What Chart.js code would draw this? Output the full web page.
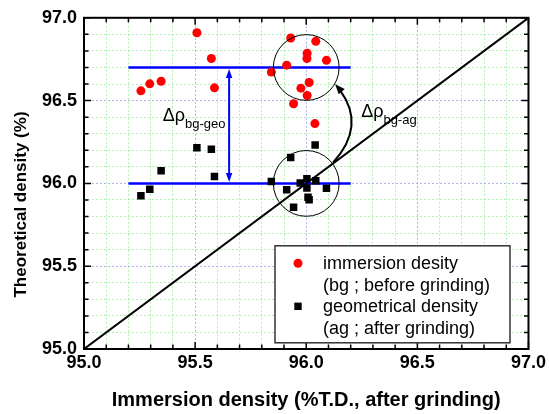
<!DOCTYPE html>
<html><head><meta charset="utf-8">
<script src="https://cdn.jsdelivr.net/npm/chart.js@4.4.1/dist/chart.umd.min.js"></script>
<style>html,body{margin:0;padding:0;background:#fff}#wrap{width:549px;height:414px;position:relative}</style>
</head><body><div id="wrap"><canvas id="c"></canvas></div>
<script>
// ---- data ----
const immersionX = [95.256,95.296,95.347,95.508,95.573,95.587,95.843,95.912,95.930,96.004,96.003,96.043,96.013,95.976,96.004,95.943,96.039,96.091];
const immersionY = [96.559,96.601,96.617,96.910,96.754,96.577,96.672,96.714,96.878,96.786,96.754,96.858,96.609,96.575,96.531,96.481,96.361,96.743];
const geometricalX = [95.256,95.296,95.347,95.508,95.573,95.587,95.843,95.930,96.040,95.912,96.003,95.973,96.043,96.003,96.091,96.008,96.013,95.943];
const geometricalY = [95.926,95.964,96.076,96.216,96.206,96.042,96.012,96.157,96.232,95.962,96.028,96.002,96.016,95.972,95.970,95.916,95.902,95.856];
const levelX = [95.2, 96.2];
const levelBg = 96.7;
const levelGeo = 96.0;
const diagX = [95.0, 97.0];
const axisMin = 95.0, axisMax = 97.0, tickStep = 0.1;
const tickLabels = ['95.0','95.5','96.0','96.5','97.0'];
const legendLines = [['immersion desity','(bg ; before grinding)'],['geometrical density','(ag ; after grinding)']];

const FONT = "'Liberation Sans', Arial, Helvetica, sans-serif";
Chart.defaults.font.family = FONT;

const isMajor = v => Math.abs(v*2 - Math.round(v*2)) < 1e-6;
const gridColor = c => (c.tick && isMajor(c.tick.value)) ? 'rgba(170,170,240,0.9)' : 'rgba(150,235,150,0.75)';
const tickCb = v => { const s = Number(v).toFixed(1); return (isMajor(v) && tickLabels.includes(s)) ? s : ''; };

function arrowHead(ctx, tx, ty, dx, dy, len, hw, color){
  const l = Math.hypot(dx,dy); const ux = dx/l, uy = dy/l;
  const bx = tx - ux*len, by = ty - uy*len;
  ctx.beginPath();
  ctx.moveTo(tx,ty);
  ctx.lineTo(bx - uy*hw, by + ux*hw);
  ctx.lineTo(bx + uy*hw, by - ux*hw);
  ctx.closePath();
  ctx.fillStyle = color; ctx.fill();
}

const deco = {
  id:'deco',
  afterDatasetsDraw(chart){
    const {ctx, chartArea:a, scales:{x,y}} = chart;
    const X = v => x.getPixelForValue(v), Y = v => y.getPixelForValue(v);
    ctx.save();
    // circles
    const r = X(96.148) - X(96.0);
    ctx.strokeStyle = '#000'; ctx.lineWidth = 1;
    [levelBg, levelGeo].forEach(lv => { ctx.beginPath(); ctx.arc(X(96.0), Y(lv), r, 0, Math.PI*2); ctx.stroke(); });
    // vertical double arrow
    const ax = X(95.653);
    const yt = Y(levelBg) + 1.5, yb = Y(levelGeo) - 1.5;
    ctx.strokeStyle = '#0000ff'; ctx.lineWidth = 2;
    ctx.beginPath(); ctx.moveTo(ax, yt + 6); ctx.lineTo(ax, yb - 6); ctx.stroke();
    arrowHead(ctx, ax, yt, 0, -1, 9, 3.2, '#0000ff');
    arrowHead(ctx, ax, yb, 0, 1, 9, 3.2, '#0000ff');
    // curved arrow
    const p0 = [X(96.130), Y(96.599)], pc = [X(96.283), Y(96.365)], p2 = [X(96.121), Y(96.126)];
    const t0 = 0.08;
    const sx = (1-t0)*(1-t0)*p0[0] + 2*(1-t0)*t0*pc[0] + t0*t0*p2[0];
    const sy = (1-t0)*(1-t0)*p0[1] + 2*(1-t0)*t0*pc[1] + t0*t0*p2[1];
    ctx.strokeStyle = '#000'; ctx.lineWidth = 2;
    ctx.beginPath(); ctx.moveTo(sx, sy);
    const c1x = (1-t0)*pc[0] + t0*p2[0], c1y = (1-t0)*pc[1] + t0*p2[1];
    ctx.quadraticCurveTo(c1x, c1y, p2[0], p2[1]); ctx.stroke();
    arrowHead(ctx, p0[0], p0[1], p0[0]-pc[0], p0[1]-pc[1], 10, 4, '#000');
    // frame
    ctx.strokeStyle = '#000'; ctx.lineWidth = 2;
    ctx.strokeRect(a.left, a.top, a.right - a.left, a.bottom - a.top);
    // inward ticks
    ctx.lineWidth = 1.5;
    ctx.beginPath();
    x.ticks.forEach(t => { const px = X(t.value); const L = isMajor(t.value) ? 7 : 4.5;
      ctx.moveTo(px, a.bottom); ctx.lineTo(px, a.bottom - L);
      ctx.moveTo(px, a.top); ctx.lineTo(px, a.top + L); });
    y.ticks.forEach(t => { const py = Y(t.value); const L = isMajor(t.value) ? 7 : 4.5;
      ctx.moveTo(a.left, py); ctx.lineTo(a.left + L, py);
      ctx.moveTo(a.right, py); ctx.lineTo(a.right - L, py); });
    ctx.stroke();
    // delta labels
    ctx.fillStyle = '#000'; ctx.textBaseline = 'alphabetic'; ctx.textAlign = 'left';
    function delta(dx, dy, sub){
      const px = X(dx), py = Y(dy);
      ctx.font = '18px ' + FONT;
      ctx.fillText('\u0394\u03C1', px, py);
      const w = ctx.measureText('\u0394\u03C1').width;
      ctx.font = '13px ' + FONT;
      ctx.fillText(sub, px + w, py + 7);
    }
    delta(95.354, 96.377, 'bg-geo');
    delta(96.247, 96.401, 'bg-ag');
    // legend
    const lx = a.left + 191, ly = a.top + 228, lw = 235, lh = 97;
    ctx.fillStyle = '#fff'; ctx.fillRect(lx, ly, lw, lh);
    ctx.strokeStyle = '#333'; ctx.lineWidth = 1.5; ctx.strokeRect(lx, ly, lw, lh);
    ctx.font = '18px ' + FONT; ctx.textBaseline = 'middle'; ctx.fillStyle = '#000';
    const lineH = 21.5;
    legendLines.forEach((lines, i) => {
      const cy = ly + 17.5 + i*2*lineH;
      if (i === 0) { ctx.fillStyle = '#ff0000'; ctx.beginPath(); ctx.arc(lx + 23, cy, 4.5, 0, Math.PI*2); ctx.fill(); }
      else { ctx.fillStyle = '#000'; ctx.fillRect(lx + 23 - 3.7, cy - 3.7, 7.4, 7.4); }
      ctx.fillStyle = '#000';
      lines.forEach((txt, j) => ctx.fillText(txt, lx + 48, cy + j*lineH + 1));
    });
    // y title
    ctx.save();
    ctx.translate(21, 204.5); ctx.rotate(-Math.PI/2);
    ctx.font = 'bold 17px ' + FONT; ctx.textAlign = 'center'; ctx.textBaseline = 'middle';
    ctx.fillText('Theoretical density (%)', 0, 0);
    ctx.restore();
    ctx.restore();
  }
};

new Chart(document.getElementById('c'), {
  type: 'scatter',
  data: { datasets: [
    { label: 'immersion desity', data: immersionX.map((v,i) => ({x:v, y:immersionY[i]})), pointStyle:'circle', pointRadius:4.5, pointHoverRadius:4.5, backgroundColor:'#ff0000', borderWidth:0, order:2 },
    { label: 'geometrical density', data: geometricalX.map((v,i) => ({x:v, y:geometricalY[i]})), pointStyle:'rect', pointRadius:5.3, pointHoverRadius:5.3, backgroundColor:'#000', borderWidth:0, order:2 },
    { label: 'bg level', data: levelX.map(v => ({x:v, y:levelBg})), showLine:true, borderColor:'#0000ff', borderWidth:2.5, pointRadius:0, order:3 },
    { label: 'geo level', data: levelX.map(v => ({x:v, y:levelGeo})), showLine:true, borderColor:'#0000ff', borderWidth:2.5, pointRadius:0, order:3 },
    { label: 'y = x', data: diagX.map(v => ({x:v, y:v})), showLine:true, borderColor:'#000', borderWidth:2, pointRadius:0, order:1 }
  ]},
  options: {
    responsive:true, maintainAspectRatio:false, animation:false,
    layout:{ padding:{ left:0, right:19, top:15, bottom:0 } },
    plugins:{ legend:{display:false}, tooltip:{enabled:false} },
    scales:{
      x:{ type:'linear', min:axisMin, max:axisMax,
        afterFit: s => { s.height = 65; },
        ticks:{ stepSize:tickStep, autoSkip:false, maxRotation:0, minRotation:0, padding:3, color:'#000', font:{size:18, weight:'bold'}, callback:tickCb },
        grid:{ color:gridColor, lineWidth:1, drawTicks:false, borderDash:[2,2] },
        border:{ display:false, dash:[2,2] },
        title:{ display:true, text:'Immersion density (%T.D., after grinding)', color:'#000', font:{size:20, weight:'bold'}, padding:{top:0, bottom:2} }
      },
      y:{ type:'linear', min:axisMin, max:axisMax,
        afterFit: s => { s.width = 84; },
        ticks:{ stepSize:tickStep, autoSkip:false, padding:7, color:'#000', font:{size:18, weight:'bold'}, callback:tickCb },
        grid:{ color:gridColor, lineWidth:1, drawTicks:false, borderDash:[2,2] },
        border:{ display:false, dash:[2,2] }
      }
    }
  },
  plugins:[deco]
});
</script></body></html>
